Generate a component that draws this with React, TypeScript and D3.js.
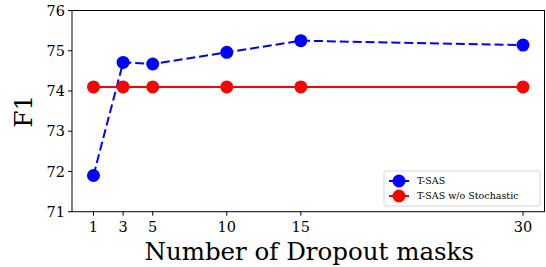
import * as d3 from 'd3'

const masks = [1, 3, 5, 10, 15, 30]
const tsas = [71.9, 74.71, 74.67, 74.96, 75.25, 75.14]
const tsasNoStoch = [74.1, 74.1, 74.1, 74.1, 74.1, 74.1]
const yTicks = [71, 72, 73, 74, 75, 76]
const seriesNames = ['T-SAS', 'T-SAS w/o Stochastic']

const W = 546
const H = 267
const margin = { top: 10.5, right: 1.5, bottom: 55.3, left: 72 }

export default function App() {
  const x = d3.scaleLinear().domain([-0.45, 31.45]).range([margin.left, W - margin.right])
  const y = d3.scaleLinear().domain([71, 76]).range([H - margin.bottom, margin.top])
  const line = d3.line<number>().x((_, i) => x(masks[i])).y(d => y(d))
  const serif = 'DejaVu Serif'
  const y0 = H - margin.bottom

  const series = [
    { vals: tsas, color: '#0000ff', dash: '9,3.9' },
    { vals: tsasNoStoch, color: '#ff0000', dash: null },
  ]

  return (
    <svg width={W} height={H} style={{ position: 'absolute', left: 0, top: 0 }}>
      <rect width={W} height={H} fill="white" />
      {/* y ticks */}
      {yTicks.map(t => (
        <g key={t}>
          <line x1={margin.left - 4} x2={margin.left} y1={y(t)} y2={y(t)} stroke="black" strokeWidth={1} />
          <text x={margin.left - 7} y={y(t)} dy="0.36em" textAnchor="end" fontFamily={serif} fontSize={14.5}>{t}</text>
        </g>
      ))}
      {/* x ticks */}
      {masks.map(t => (
        <g key={t}>
          <line x1={x(t)} x2={x(t)} y1={y0} y2={y0 + 4} stroke="black" strokeWidth={1} />
          <text x={x(t)} y={y0 + 20} textAnchor="middle" fontFamily={serif} fontSize={14.5}>{t}</text>
        </g>
      ))}
      {series.map((s, k) => (
        <g key={k}>
          <path d={line(s.vals) ?? ''} fill="none" stroke={s.color} strokeWidth={2} strokeDasharray={s.dash ?? undefined} />
          {s.vals.map((v, i) => (
            <circle key={i} cx={x(masks[i])} cy={y(v)} r={6.5} fill={s.color} />
          ))}
        </g>
      ))}
      <rect x={margin.left} y={margin.top} width={W - margin.right - margin.left} height={y0 - margin.top} fill="none" stroke="black" strokeWidth={1} />
      {/* legend */}
      <g transform="translate(384,171)">
        <rect x={0} y={0} width={156} height={35} rx={2} fill="white" stroke="#cccccc" strokeWidth={1} opacity={0.8} />
        {series.map((s, k) => (
          <g key={k} transform={`translate(0,${10 + k * 15})`}>
            <line x1={5} x2={25} y1={0} y2={0} stroke={s.color} strokeWidth={2} />
            <circle cx={15} cy={0} r={6.5} fill={s.color} />
            <text x={33} y={0} dy="0.36em" fontFamily={serif} fontSize={9.5}>{seriesNames[k]}</text>
          </g>
        ))}
      </g>
      <text x={(margin.left + W - margin.right) / 2 + 1} y={260} textAnchor="middle" fontFamily={serif} fontSize={24.5}>Number of Dropout masks</text>
      <text transform={`translate(32,${(margin.top + y0) / 2}) rotate(-90)`} textAnchor="middle" fontFamily={serif} fontSize={24.5}>F1</text>
    </svg>
  )
}
